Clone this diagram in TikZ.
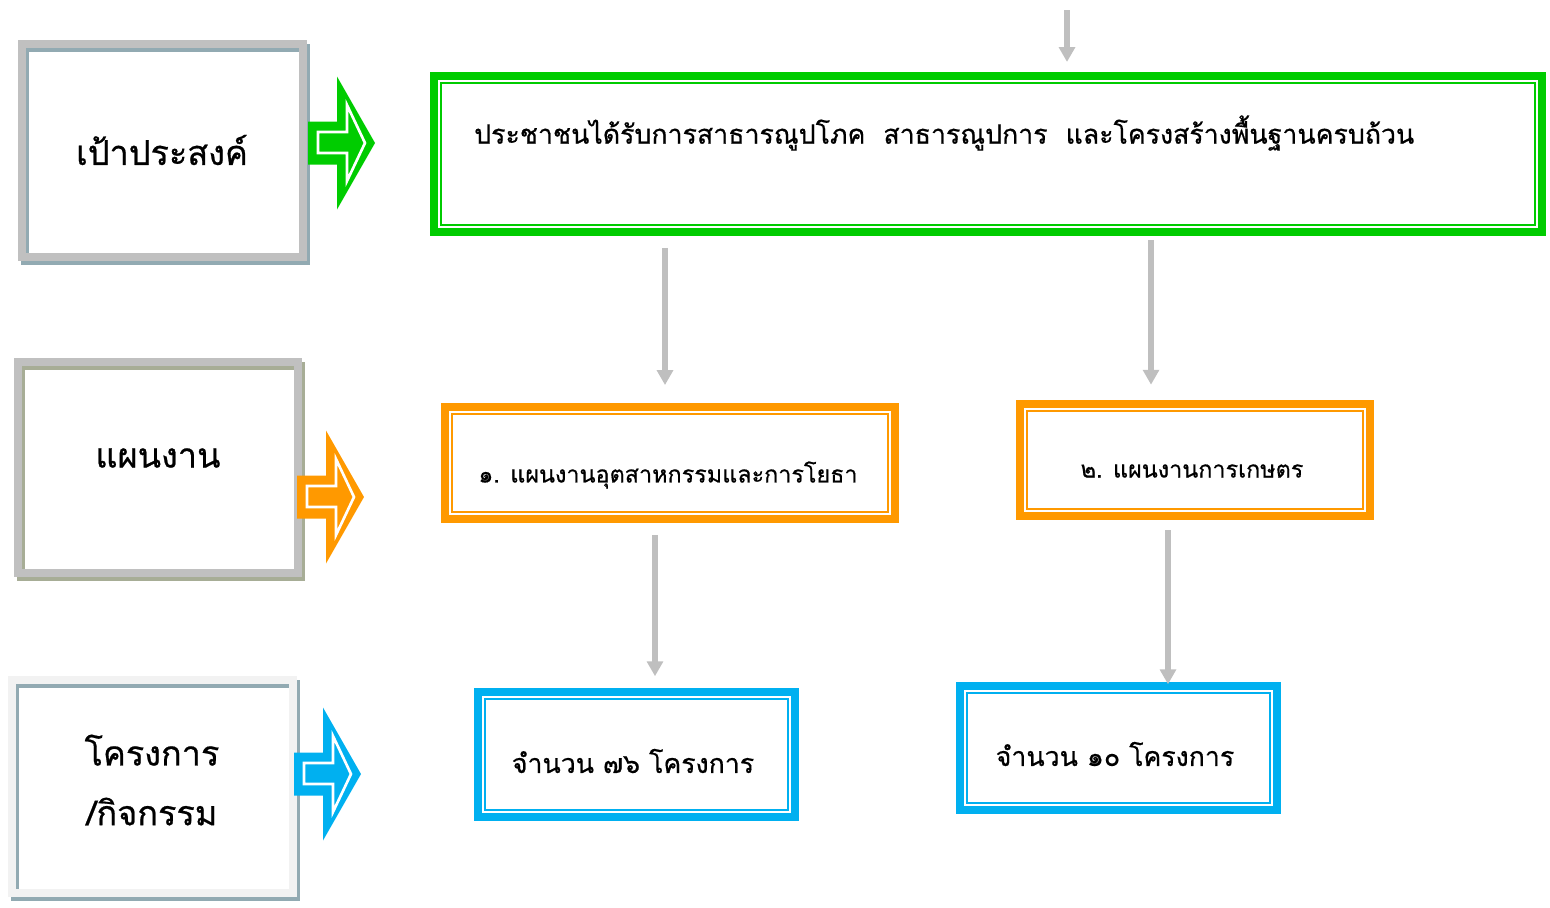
\documentclass[tikz,border=0pt]{standalone}
\usepackage{fontspec}
\usepackage{xcolor}
\usepackage{tikz}
\usetikzlibrary{arrows.meta,backgrounds}
\newfontfamily\thaifont[Script=Thai,FakeBold=0.6]{Loma}

\definecolor{goalGreen}{HTML}{00CC00}
\definecolor{planOrange}{HTML}{FF9900}
\definecolor{projBlue}{HTML}{00B0F0}
\definecolor{flowGray}{HTML}{BFBFBF}
\definecolor{frameGray}{HTML}{C0C0C0}
\definecolor{frameLight}{HTML}{F2F2F2}
\definecolor{shadowBlue}{HTML}{92AAB2}
\definecolor{shadowOlive}{HTML}{A7AD96}

\tikzset{
  sideBox/.style={draw=#1, line width=5pt, minimum width=5.62cm, minimum height=4.26cm, inner sep=0pt, outer sep=0pt},
  levelBox/.style={draw=#1, line width=4.5pt, inner sep=0pt, outer sep=0pt},
  flow/.style={draw=flowGray, line width=3pt, -{Triangle[length=8.5pt,width=9pt]}},
  sideText/.style={font=\thaifont\fontsize{19.5pt}{34pt}\selectfont, align=center},
  goalText/.style={font=\thaifont\fontsize{15.2pt}{18pt}\selectfont},
  planText/.style={font=\thaifont\fontsize{13.3pt}{16pt}\selectfont},
  projText/.style={font=\thaifont\fontsize{15.2pt}{18pt}\selectfont}
}

\begin{document}
\begin{tikzpicture}[x=0.02cm, y=-0.02cm]
\useasboundingbox (0,0) rectangle (1550,907);

% Side boxes
\node[sideBox=frameGray] (goalSide) at (162.5,150.5) {};
\node[sideBox=frameGray, minimum width=5.6cm, minimum height=4.22cm] (planSide) at (158,467.5) {};
\node[sideBox=frameLight] (projSide) at (152.5,786.5) {};

% Side box shadows
\begin{scope}[on background layer]
\foreach \n/\c in {goalSide/shadowBlue, planSide/shadowOlive, projSide/shadowBlue}
  \draw[draw=\c, line width=5pt] ([shift={(3,4)}]\n.north west) rectangle ([shift={(3,4)}]\n.south east);
\end{scope}

% Side box descriptions
\node[sideText] (goalSideText) at (162,150) {เป้าประสงค์};
\node[sideText] (planSideText) at (158,458) {แผนงาน};
\node[sideText] (projSideText) at (152,780) {โครงการ\\/กิจกรรม};

% Block arrows
\foreach \ax/\ay/\ac in {308/143/goalGreen, 297/497/planOrange, 294/774/projBlue} {
  \begin{scope}[shift={(\ax,\ay)}]
    \fill[fill=\ac] (0,-21.5) -- (29,-21.5) -- (29,-66.5) -- (67,0) -- (29,66.5) -- (29,21.5) -- (0,21.5) -- cycle;
    \draw[white, line width=1.5pt] (10,-11) -- (39,-11) -- (39,-38) -- (57,0) -- (39,38) -- (39,10) -- (10,10) -- cycle;
  \end{scope}
}

% Level boxes
\node[levelBox=goalGreen, minimum width=22.16cm, minimum height=3.12cm] (goal) at (988,154) {};
\node[levelBox=planOrange, minimum width=9cm, minimum height=2.24cm] (plan1) at (670,463) {};
\node[levelBox=planOrange, minimum width=7cm, minimum height=2.24cm] (plan2) at (1195,460) {};
\node[levelBox=projBlue, minimum width=6.34cm, minimum height=2.5cm] (proj1) at (636.5,754.5) {};
\node[levelBox=projBlue, minimum width=6.34cm, minimum height=2.48cm] (proj2) at (1118.5,748) {};

% Inner frames
\foreach \n/\c in {goal/goalGreen, plan1/planOrange, plan2/planOrange, proj1/projBlue, proj2/projBlue}
  \draw[draw=\c, line width=1.3pt] ([shift={(7,7)}]\n.north west) rectangle ([shift={(-7,-7)}]\n.south east);

% Box descriptions
\node[goalText, anchor=west] (goalTitle) at (468,133) {ประชาชนได้รับการสาธารณูปโภค~~สาธารณูปการ~~และโครงสร้างพื้นฐานครบถ้วน};
\node[planText] (plan1Title) at (668,475) {๑. แผนงานอุตสาหกรรมและการโยธา};
\node[planText] (plan2Title) at (1192,471) {๒. แผนงานการเกษตร};
\node[projText] (proj1Title) at (633,761) {จำนวน ๗๖ โครงการ};
\node[projText] (proj2Title) at (1115,754) {จำนวน ๑๐ โครงการ};

% Flow arrows
\coordinate (feedTop) at (1067,10);
\coordinate (plan1In) at ([xshift=-0.1cm]plan1.north);
\coordinate (plan2In) at ([xshift=-0.88cm]plan2.north);
\coordinate (proj1In) at ([xshift=0.37cm]proj1.north);
\coordinate (proj2In) at ([xshift=0.99cm]proj2.north);
\draw[flow, shorten >=8pt] (feedTop) -- (feedTop |- goal.north);
\draw[flow, shorten <=9pt, shorten >=12.5pt] (plan1In |- goal.south) -- (plan1In);
\draw[flow, shorten <=4.5pt, shorten >=11pt] (plan2In |- goal.south) -- (plan2In);
\draw[flow, shorten <=9pt, shorten >=9pt] (proj1In |- plan1.south) -- (proj1In);
\draw[flow, shorten <=8pt, shorten >=1pt] (proj2In |- plan2.south) -- (proj2In);
\end{tikzpicture}
\end{document}
